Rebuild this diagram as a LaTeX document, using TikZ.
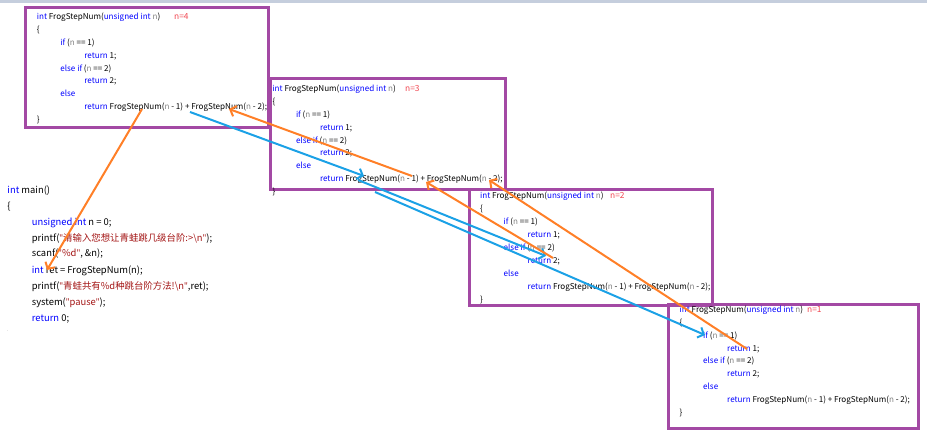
\documentclass[tikz,border=0pt]{standalone}
\usepackage{fontspec}
\setmainfont{Noto Sans CJK SC}
\newfontfamily\latq{Open Sans}
\usetikzlibrary{arrows.meta}
\definecolor{boxpurple}{HTML}{A349A4}
\definecolor{arrorange}{HTML}{FF7F27}
\definecolor{arrblue}{HTML}{1BA1E6}
\definecolor{kwblue}{HTML}{0000FF}
\definecolor{pgray}{HTML}{808080}
\definecolor{strred}{HTML}{A31515}
\definecolor{nred}{HTML}{F04650}
\definecolor{bandgray}{HTML}{C5CEDD}
\newcommand{\kw}[1]{\textcolor{kwblue}{#1}}
\newcommand{\pn}{\textcolor{pgray}{n}}
\newcommand{\str}[1]{\textcolor{strred}{#1}}
\newcommand{\dq}{{\latq"}}
\tikzset{
  code/.style={anchor=base west, inner sep=0pt, font=\fontsize{8.1}{10}\selectfont},
  maincode/.style={anchor=base west, inner sep=0pt, font=\fontsize{9.4}{11}\selectfont},
  nlab/.style={anchor=base west, inner sep=0pt, text=nred, font=\fontsize{8.4}{10}\selectfont},
  fbox/.style={draw=boxpurple, line width=3pt, anchor=north west, inner sep=0pt, outer sep=0pt},
  oarr/.style={draw=arrorange, line width=2pt, -{Straight Barb[length=5pt,width=11pt,line width=2pt]}},
  barr/.style={draw=arrblue, line width=2pt, -{Straight Barb[length=5pt,width=11pt,line width=2pt]}},
}
% #1 prefix, #2 text x, #3 first line centre y, #4 line step, #5 n-label x, #6 n value
\newcommand{\fbody}[6]{%
  \node[code] (#1l1) at (#2,#3+3) {\kw{int} FrogStepNum(\kw{unsigned int} \pn)};
  \node[nlab] (#1n) at (#5,#3+3) {n=#6};
  \node[code] (#1l2) at (#2,#3+#4+3) {\{};
  \node[code] (#1l3) at (#2+23.5,#3+2*#4+3) {\kw{if} (\pn{} == 1)};
  \node[code] (#1l4) at (#2+47.5,#3+3*#4+3) {\kw{return} 1;};
  \node[code] (#1l5) at (#2+23.5,#3+4*#4+3) {\kw{else if} (\pn{} == 2)};
  \node[code] (#1l6) at (#2+47.5,#3+5*#4+3) {\kw{return} 2;};
  \node[code] (#1l7) at (#2+23.5,#3+6*#4+3) {\kw{else}};
  \node[code] (#1l8) at (#2+47.5,#3+7*#4+3) {\kw{return} FrogStepNum(\pn{} - 1) + FrogStepNum(\pn{} - 2);};
  \node[code] (#1l9) at (#2,#3+8*#4+3) {\}};
}
\begin{document}
\begin{tikzpicture}[x=1pt,y=-1pt]
\useasboundingbox (0,0) rectangle (927,433);
\fill[bandgray] (0,0) rectangle (927,3.5);

% boxes
\node[fbox, minimum width=243pt, minimum height=120pt] (box1) at (25,8) {};
\node[fbox, minimum width=235pt, minimum height=111pt] (box2) at (270,79) {};
\node[fbox, minimum width=243pt, minimum height=115pt] (box3) at (469,190) {};
\node[fbox, minimum width=250pt, minimum height=124pt] (box4) at (668,304) {};

% function bodies
\fbody{a}{36.7}{16.7}{12.83}{174}{4}
\fbody{b}{272.3}{89}{12.8}{405}{3}
\fbody{c}{480}{196}{12.9}{610}{2}
\fbody{d}{679.5}{309.7}{12.8}{807}{1}

% main
\node[maincode] (m1) at (7.3,193.5) {\kw{int} main()};
\node[maincode] (m2) at (7.3,210) {\{};
\node[maincode] (m3) at (31.7,225.2) {\kw{unsigned int} n = 0;};
\node[maincode] (m4) at (31.7,241.2) {printf(\str{\dq 请输入您想让青蛙跳几级台阶:>\textbackslash n\dq});};
\node[maincode] (m5) at (31.7,256.8) {scanf(\str{\dq\%d\dq}, \&n);};
\node[maincode] (m6) at (31.7,273.5) {\kw{int} ret = FrogStepNum(n);};
\node[maincode] (m7) at (31.7,289.5) {printf(\str{\dq 青蛙共有\%d种跳台阶方法!\textbackslash n\dq},ret);};
\node[maincode] (m8) at (31.7,305.2) {system(\str{\dq pause\dq});};
\node[maincode] (m9) at (31.7,321.2) {\kw{return} 0;};
\node[maincode, text=pgray!60, font=\fontsize{6}{7}\selectfont] (mdot) at (6.5,331) {.};

% arrow end points
\coordinate (o1s) at (142,109);  \coordinate (o1e) at (47,270);
\coordinate (o2s) at (412,176);  \coordinate (o2e) at (229,109);
\coordinate (o3s) at (553,258);  \coordinate (o3e) at (426,182);
\coordinate (o4s) at (747,349);  \coordinate (o4e) at (489,180);
\coordinate (b1s) at (190,112);  \coordinate (b1e) at (364,176);
\coordinate (b2s) at (358,180);  \coordinate (b2e) at (546,256);
\coordinate (b3s) at (375,192);  \coordinate (b3e) at (705,335);

\draw[barr] (b1s) -- (b1e);
\draw[barr] (b2s) -- (b2e);
\draw[barr] (b3s) -- (b3e);
\draw[oarr] (o1s) -- (o1e);
\draw[oarr] (o2s) -- (o2e);
\draw[oarr] (o3s) -- (o3e);
\draw[oarr] (o4s) -- (o4e);
\end{tikzpicture}
\end{document}
